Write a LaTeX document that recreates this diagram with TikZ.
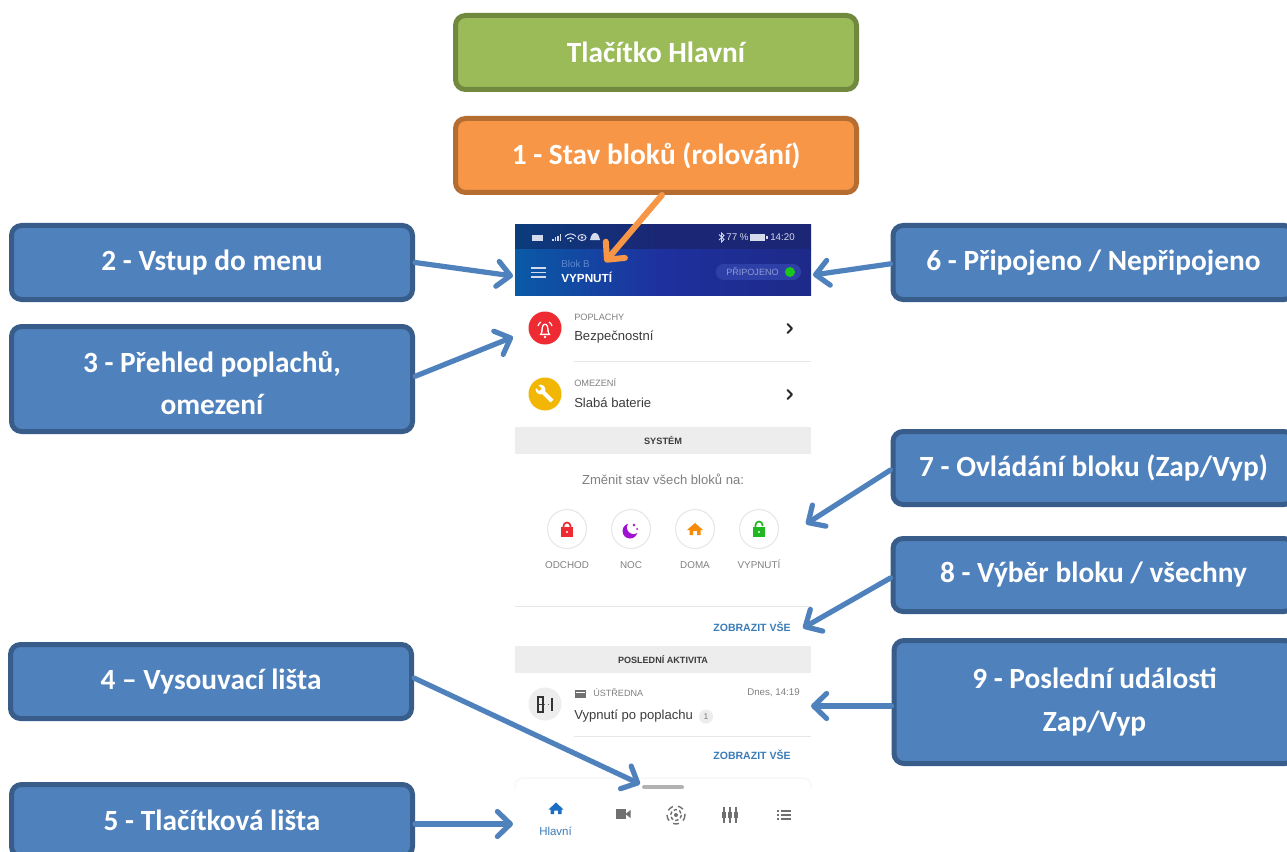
\documentclass[tikz,border=0pt]{standalone}
\usepackage{fontspec}
\setmainfont{Carlito}
\newfontfamily\phonefont{Liberation Sans}
\usetikzlibrary{arrows.meta,calc}
\definecolor{bluefill}{HTML}{4F81BD}
\definecolor{blueedge}{HTML}{385D8A}
\definecolor{greenfill}{HTML}{9BBB59}
\definecolor{greenedge}{HTML}{71893F}
\definecolor{orangefill}{HTML}{F79646}
\definecolor{orangeedge}{HTML}{B66D31}
\definecolor{band}{HTML}{EDEDED}
\definecolor{rule}{HTML}{E6E6E6}
\definecolor{linkblue}{HTML}{3A7CB8}
\definecolor{greytext}{HTML}{808080}
\definecolor{darktext}{HTML}{3C3C3C}
\definecolor{iconGrey}{HTML}{707070}
\definecolor{headA}{HTML}{0A5AA6}
\definecolor{headB}{HTML}{1E309E}
\definecolor{headC}{HTML}{1E2A88}
\definecolor{statA}{HTML}{0B3C7C}
\definecolor{statB}{HTML}{1B2674}
\definecolor{alarmred}{HTML}{EE2B33}
\definecolor{warnyellow}{HTML}{F2B705}
\definecolor{statuslight}{HTML}{D5DAEC}
\definecolor{pillfill}{HTML}{2E40A8}
\definecolor{pilltext}{HTML}{8C9BD0}
\definecolor{bloktext}{HTML}{5F86CF}
\definecolor{moonpurple}{HTML}{A010D0}
\definecolor{homeorange}{HTML}{F58A0B}
\definecolor{lockgreen}{HTML}{1FB81F}
\definecolor{homeblue}{HTML}{1A6FC4}
\def\px{0.75pt}
\tikzset{
  callout/.style={draw, rounded corners=10*\px, line width=5*\px, inner sep=0pt, text=white,
     align=center, font=\fontsize{22}{32}\selectfont\bfseries},
  bluebox/.style={callout, fill=bluefill, draw=blueedge},
  greenbox/.style={callout, fill=greenfill, draw=greenedge},
  orangebox/.style={callout, fill=orangefill, draw=orangeedge},
  sz/.style 2 args={minimum width=#1*\px, minimum height=#2*\px},
  pointer/.style={draw=bluefill, line width=5.2*\px, line cap=round,
     -{Straight Barb[length=13*\px, width=25*\px, round]}},
  pointerO/.style={pointer, draw=orangefill, line width=6*\px},
  tx/.style={inner sep=0pt, font=\phonefont\fontsize{#1}{#1}\selectfont},
  txl/.style={tx=#1, anchor=west},
  ruleline/.style={draw=rule, line width=1*\px},
  chev/.style={draw=black!85, line width=1.8*\px, line cap=round, line join=round},
}
\begin{document}
\begin{tikzpicture}[x=0.75pt,y=-0.75pt]
\useasboundingbox (0,0) rectangle (1287,852);
\clip (0,0) rectangle (1287,852);
\fill[white] (0,0) rectangle (1287,852);
% ---------- phone screen ----------
\shade[left color=statA, right color=statB, middle color=statB] (515,225) rectangle (811,249);
\shade[left color=headA, right color=headC, middle color=headB] (515,249) rectangle (811,295);
% status bar
\fill[statuslight] (532,235) rectangle (543,240.5);
\foreach \a/\h in {552/2,554.5/3.5,557/5,559.5/6.5} \fill[statuslight] (\a,241) rectangle ++(1.6,-\h);
\draw[statuslight, line width=1*\px] (565,236.5) .. controls (568,233) and (573,233) .. (576,236.5);
\draw[statuslight, line width=1*\px] (567,239) .. controls (569,237) and (572,237) .. (574,239);
\fill[statuslight] (570.5,241) circle (1*\px);
\draw[statuslight, line width=1*\px] (582,237.5) ellipse (4 and 3);
\fill[statuslight] (582,237.5) circle (1.4*\px);
\fill[statuslight] (595,233) .. controls (598,233) and (599,236) .. (600,240) -- (590,240) .. controls (591,236) and (592,233) .. (595,233) -- cycle;
\draw[statuslight, line width=0.9*\px] (719,234.5) -- (724,239.5) -- (721.5,242) -- (721.5,233) -- (724,235.5) -- (719,240);
\node[tx=7.3, text=statuslight] (st77) at (737.5,237.5) {77 \%};
\fill[statuslight] (750,234) rectangle (765,241);
\fill[statuslight] (766,236) rectangle (767.5,239);
\node[tx=7.3, text=statuslight] (sttime) at (782.5,237.5) {14:20};
% header
\foreach \y in {268,272.5,277} \draw[statuslight, line width=1.5*\px] (531,\y) -- (546,\y);
\node[txl=7.4, text=bloktext] (hblok) at (561,263.5) {Blok B};
\node[txl=8.8, text=white] (hstate) at (561,277) {\bfseries VYPNUTÍ};
\fill[pillfill] (724,264) rectangle (793,280);
\fill[pillfill] (724,272) circle (8);
\fill[pillfill] (793,272) circle (8);
\node[txl=6.8, text=pilltext] (hconn) at (726,272) {PŘIPOJENO};
\fill[green!75!black!90!white] (790,272) circle (5);
% alarm rows
\fill[alarmred] (545,328) circle (16.5);
\fill[white] (539.5,335) -- (550.5,335) -- (549,332.5) .. controls (548.5,327) and (548,323.5) .. (545,323.5) .. controls (542,323.5) and (541.5,327) .. (541,332.5) -- cycle;
\fill[alarmred] (541.9,333.5) -- (548.1,333.5) -- (547.4,332) .. controls (547,328) and (546.8,325) .. (545,325) .. controls (543.2,325) and (543,328) .. (542.6,332) -- cycle;
\draw[white, line width=1.2*\px] (538,326) .. controls (538.5,324) and (539.5,323) .. (541,322);
\draw[white, line width=1.2*\px] (552,326) .. controls (551.5,324) and (550.5,323) .. (549,322);
\fill[white] (545,337) circle (1.3);
\node[txl=6.9, text=greytext] (tpop) at (574,317) {POPLACHY};
\node[txl=9.8, text=darktext] (tbez) at (574,337.5) {Bezpečnostní};
\draw[chev] (787.5,324) -- (792,328.5) -- (787.5,333);
\draw[ruleline] (574,361) -- (811,361);
\fill[warnyellow] (545,394) circle (16.5);
\draw[white, line width=4*\px] (541,390) -- (552,401);
\fill[white] (540.5,389.5) circle (5);
\fill[warnyellow] (537,384) -- (541.5,388.5) -- (539,391) -- (534.5,386.5) -- cycle;
\node[txl=6.9, text=greytext] (tome) at (574,383) {OMEZENÍ};
\node[txl=9.8, text=darktext] (tsla) at (574,403) {Slabá baterie};
\draw[chev] (787.5,390) -- (792,394.5) -- (787.5,399);
% system band
\fill[band] (515,427) rectangle (811,454);
\node[tx=6.9, text=darktext] (tsys) at (663,440.5) {\bfseries SYSTÉM};
\node[tx=9.8, text=greytext] (tzmen) at (663,479) {Změnit stav všech bloků na:};
\foreach \c in {567,631,695,759} \draw[draw=rule, line width=1*\px] (\c,529) circle (19.5);
% red lock
\fill[alarmred] (561,527) rectangle (573,537);
\draw[alarmred, line width=1.7*\px] (563.5,527.5) -- (563.5,526) arc (180:360:3.5) -- (570.5,527.5);
\fill[white] (567,532) circle (1.2);
% moon
\fill[moonpurple] (630,531) circle (7.5);
\fill[white] (633.5,527.5) circle (6.5);
\fill[moonpurple] (634,525) circle (1.4);
\fill[moonpurple] (637,529) circle (1);
% home
\fill[homeorange] (695,523) -- (703,530) -- (700.5,530) -- (700.5,535) -- (697,535) -- (697,531) -- (693,531) -- (693,535) -- (689.5,535) -- (689.5,530) -- (687,530) -- cycle;
% green lock
\fill[lockgreen] (753,527) rectangle (765,537);
\draw[lockgreen, line width=1.7*\px] (755.5,527.5) -- (755.5,525) arc (180:360:3.5) -- (762.5,526);
\fill[white] (759,532) circle (1.2);
\node[tx=7.4, text=greytext, anchor=base] (l1) at (567,568.5) {ODCHOD};
\node[tx=7.4, text=greytext, anchor=base] (l2) at (631,568.5) {NOC};
\node[tx=7.4, text=greytext, anchor=base] (l3) at (695,568.5) {DOMA};
\node[tx=7.4, text=greytext, anchor=base] (l4) at (759,568.5) {VYPNUTÍ};
\draw[ruleline] (515,606) -- (811,606);
\node[tx=7.9, text=linkblue] (zob1) at (752,627) {\bfseries ZOBRAZIT VŠE};
% activity band
\fill[band] (515,646) rectangle (811,673);
\node[tx=6.8, text=darktext] (tpos) at (663,660) {\bfseries POSLEDNÍ AKTIVITA};
\fill[band] (545,704) circle (16.5);
\draw[black!80, line width=1.6*\px] (538,697) rectangle (543,712);
\draw[black!80, line width=1*\px] (538,704.5) -- (543,704.5);
\fill[black!80] (550.5,697.5) rectangle (553,711);
\draw[black!60, line width=1*\px, dotted] (544,704.5) -- (550,704.5);
\fill[iconGrey] (575,690) rectangle (586,698);
\fill[white] (576,692) rectangle (585,692.8);
\node[txl=6.8, text=greytext] (tust) at (593,693) {ÚSTŘEDNA};
\node[anchor=east, tx=7.3, text=greytext] (tdnes) at (800,693) {Dnes, 14:19};
\node[txl=9.8, text=darktext] (tvyp) at (574,716) {Vypnutí po poplachu};
\fill[band] (706,716.5) circle (7);
\node[tx=6.4, text=greytext] (tone) at (706,716.5) {1};
\draw[ruleline] (574,736) -- (811,736);
\node[tx=7.9, text=linkblue] (zob2) at (752,755) {\bfseries ZOBRAZIT VŠE};
% drawer
\draw[draw=band!40!white, line width=1.5*\px, rounded corners=8*\px] (515,790) -- (515,778) -- (811,778) -- (811,790);
\draw[black!30, line width=4*\px, line cap=round] (644,787) -- (682,787);
% bottom bar icons
\fill[homeblue] (556,802.5) -- (563.5,809.5) -- (561.5,809.5) -- (561.5,814) -- (558,814) -- (558,810.5) -- (554,810.5) -- (554,814) -- (550.5,814) -- (550.5,809.5) -- (548.5,809.5) -- cycle;
\node[tx=8.6, text=linkblue] (thla) at (555.5,831) {Hlavní};
\fill[iconGrey] (616,809) rectangle (626,819);
\fill[iconGrey] (626,813.5) -- (630.5,810) -- (630.5,818) -- (626,814.5) -- cycle;
\fill[iconGrey] (676,815) circle (2);
\draw[iconGrey, line width=1.4*\px, dash pattern=on 3.5*\px off 2.2*\px] (676,815) circle (5.5);
\draw[iconGrey, line width=1.4*\px, dash pattern=on 6*\px off 5*\px] (676,815) circle (9);
\foreach \c in {724,730,736} {
  \draw[iconGrey, line width=1.5*\px] (\c,807) -- (\c,823);
  \fill[iconGrey] (\c-2.2,812) rectangle (\c+2.2,817.5);
}
\foreach \y in {811,815,819} {
  \fill[iconGrey] (777,\y-0.7) rectangle (779,\y+0.7);
  \fill[iconGrey] (781,\y-0.7) rectangle (791,\y+0.7);
}
% ---------- callouts ----------
\node[greenbox, sz={401}{74}] (nMain) at (656,52.5) {Tlačítko Hlavní};
\node[orangebox, sz={401}{74}] (n1) at (656,155.5) {1 - Stav bloků (rolování)};
\node[bluebox, sz={401}{74}] (n2) at (212,262.5) {2 - Vstup do menu};
\node[bluebox, sz={401}{105}] (n3) at (212,379) {\rule{0pt}{22pt}3 - Přehled poplachů,\\omezení};
\node[bluebox, sz={401}{74}] (n4) at (211,681.5) {4 – Vysouvací lišta};
\node[bluebox, sz={401}{72}] (n5) at (212,820.5) {5 - Tlačítková lišta};
\node[bluebox, sz={401}{74}] (n6) at (1093.5,262.5) {6 - Připojeno / Nepřipojeno};
\node[bluebox, sz={401}{73}] (n7) at (1093.5,468) {7 - Ovládání bloku (Zap/Vyp)};
\node[bluebox, sz={401}{73}] (n8) at (1093.5,575) {8 - Výběr bloku / všechny};
\node[bluebox, sz={401}{123}] (n9) at (1094.5,702) {9 - Poslední události\\Zap/Vyp};
% ---------- connectors ----------
\coordinate (e1) at (605,262);
\coordinate (e2) at (513,276);
\coordinate (e3) at (513,337);
\coordinate (e4) at (640,784);
\coordinate (e5) at (513,824);
\coordinate (e6) at (813,275);
\coordinate (e7) at (806,524);
\coordinate (e8) at (803,628);
\coordinate (e9) at (811,706);
\draw[pointerO] ([xshift=4.5pt]n1.south) -- (e1);
\draw[pointer] (n2.east) -- (e2);
\draw[pointer] ([yshift=2pt]n3.east) -- (e3);
\draw[pointer] ([yshift=2.6pt]n4.east) -- (e4);
\draw[pointer] (n5.east |- e5) -- (e5);
\draw[pointer] ([yshift=-1pt]n6.west) -- (e6);
\draw[pointer] ([yshift=-1.5pt]n7.west) -- (e7);
\draw[pointer] ([yshift=-2.2pt]n8.west) -- (e8);
\draw[pointer] ([yshift=-3pt]n9.west) -- (e9);
\end{tikzpicture}
\end{document}
